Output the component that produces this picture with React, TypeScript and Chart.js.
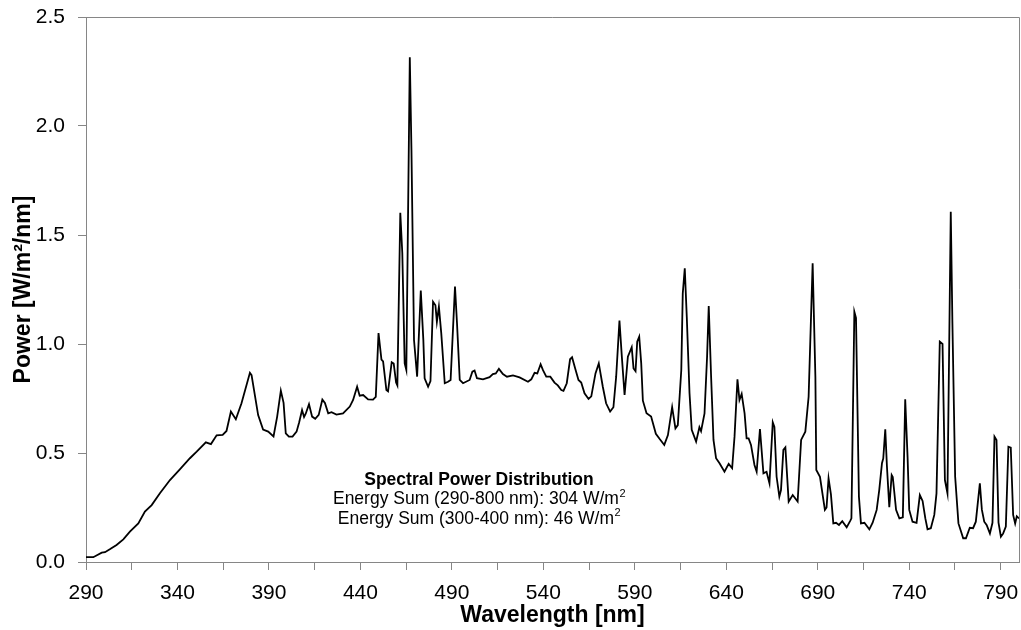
import React, { useEffect, useRef } from "react";
import { Chart, registerables } from "chart.js";

Chart.register(...registerables);

const wavelengths = [
  290, 294, 298.6, 300.4, 303, 306.7, 310.4, 314, 318.6, 322.2, 325.9, 330.4, 335.9, 341.3, 346.8, 350.5,
  355.5, 358.3, 361.4, 364.7, 366.8, 369.2, 371.9, 375, 379.6, 380.5, 384.1, 386.8, 389.6, 392.5, 394.5,
  396.5, 398, 399.2, 400.9, 402.9, 405.1, 406.5, 408.1, 409.2, 410.1, 411.9, 413.6, 415.3, 417.2, 419.2,
  420.6, 422.4, 424.2, 426.9, 430.5, 434.2, 436, 438.2, 439.6, 441.5, 444.2, 446.9, 448.4, 449.9, 451.5,
  452.4, 454.2, 455.1, 457.1, 458.2, 459.5, 460.2, 461.8, 462.9, 464.2, 465.1, 467, 467.9, 469.3, 471,
  473, 474.4, 475.1, 477, 478.3, 479.7, 481, 481.8, 482.9, 484.2, 486.1, 487.9, 489.3, 491.7, 492.8,
  494.3, 496.1, 499.7, 501.2, 502.4, 503.7, 507, 510.6, 512.4, 514, 515.7, 517.9, 520.1, 523.4, 527,
  531.6, 533.4, 535.2, 536.7, 538.5, 539.8, 541.6, 543.8, 546.1, 547.9, 549.8, 551, 552.8, 554.6, 555.7,
  557.4, 559.2, 560.7, 562.5, 564.7, 566.2, 568.5, 570.3, 572.5, 574.3, 576.5, 578.3, 579.8, 581.6,
  582.9, 584.4, 586.2, 588.3, 589.3, 590.4, 591.3, 592.4, 593.5, 594.4, 596.4, 598.9, 601.5, 603.7,
  606.1, 608.1, 610.4, 612.2, 613.5, 615.4, 616.2, 617.3, 618.4, 619.9, 621.1, 623.5, 625.3, 626.2,
  628.1, 629.5, 630.4, 631.7, 633, 634.4, 636.3, 639, 641.3, 643.2, 644.5, 646.1, 647.2, 648.4, 650,
  651.1, 652.2, 653.5, 655.4, 656.6, 658.4, 660.3, 662, 663.6, 665.4, 666.3, 667.5, 669, 669.9, 671.2,
  672.3, 674.1, 676.3, 679, 680.9, 683.2, 685, 687.2, 688.7, 689.2, 691.2, 693.9, 694.8, 695.9, 697.2,
  698.5, 700, 701.6, 703.4, 705.8, 707.8, 708.4, 710, 710.9, 712.5, 713.6, 715.5, 718.2, 720, 722.2,
  723.6, 725.1, 725.8, 726.9, 727.8, 729.1, 730.4, 731, 732.8, 734.6, 736.5, 737.8, 739.1, 740, 741.8,
  744, 745.8, 747.3, 748.8, 750, 751.8, 753.7, 754.9, 756.7, 758.2, 759.5, 760.9, 762.7, 763.6, 765.1,
  766.9, 769.5, 771, 773.1, 774.9, 776.4, 778.6, 779.7, 781, 782.3, 784.1, 785.5, 786.6, 787.7, 788.8,
  790.1, 791.3, 792.8, 794.2, 795.5, 796.8, 797.9, 798.8, 800,
];

const power = [
  0.022, 0.022, 0.043, 0.045, 0.058, 0.078, 0.104, 0.139, 0.177, 0.231, 0.261, 0.315, 0.376, 0.425, 0.476, 0.506,
  0.549, 0.541, 0.581, 0.583, 0.601, 0.69, 0.655, 0.728, 0.868, 0.857, 0.674, 0.608, 0.598, 0.576, 0.667,
  0.786, 0.73, 0.59, 0.575, 0.575, 0.598, 0.64, 0.697, 0.665, 0.68, 0.724, 0.667, 0.657, 0.675, 0.745,
  0.73, 0.682, 0.687, 0.676, 0.682, 0.713, 0.743, 0.804, 0.763, 0.766, 0.746, 0.745, 0.758, 1.05, 0.928,
  0.92, 0.789, 0.783, 0.916, 0.91, 0.823, 0.81, 1.602, 1.416, 0.911, 0.881, 2.315, 1.89, 1.018, 0.85,
  1.245, 1.018, 0.843, 0.804, 0.83, 1.194, 1.178, 1.102, 1.171, 1.049, 0.82, 0.827, 0.835, 1.263, 1.095,
  0.835, 0.82, 0.835, 0.873, 0.878, 0.843, 0.838, 0.848, 0.862, 0.865, 0.886, 0.862, 0.85, 0.856, 0.847,
  0.827, 0.838, 0.868, 0.865, 0.907, 0.88, 0.85, 0.85, 0.823, 0.81, 0.789, 0.785, 0.82, 0.93, 0.939,
  0.888, 0.835, 0.823, 0.774, 0.748, 0.76, 0.865, 0.911, 0.804, 0.728, 0.69, 0.71, 0.85, 1.107,
  0.942, 0.766, 0.942, 0.985, 0.888, 0.875, 1.011, 1.034, 0.911, 0.74, 0.682, 0.667, 0.588, 0.563,
  0.537, 0.582, 0.71, 0.613, 0.628, 0.881, 1.232, 1.347, 1.125, 0.774, 0.606, 0.552, 0.618, 0.6,
  0.682, 0.942, 1.174, 0.85, 0.56, 0.476, 0.453, 0.414, 0.45, 0.43, 0.575, 0.838, 0.743, 0.771, 0.682,
  0.567, 0.567, 0.537, 0.445, 0.414, 0.61, 0.407, 0.414, 0.361, 0.641, 0.62, 0.391, 0.3, 0.33, 0.514,
  0.526, 0.277, 0.307, 0.277, 0.56, 0.598, 0.758, 1.37, 0.85, 0.422, 0.391, 0.239, 0.25, 0.384, 0.31,
  0.177, 0.18, 0.17, 0.187, 0.159, 0.19, 0.2, 1.148, 1.12, 0.3, 0.177, 0.18, 0.15, 0.18, 0.239,
  0.33, 0.453, 0.475, 0.609, 0.44, 0.251, 0.399, 0.39, 0.239, 0.2, 0.205, 0.746, 0.48, 0.239, 0.185,
  0.18, 0.307, 0.28, 0.2, 0.15, 0.155, 0.216, 0.315, 1.011, 1.0, 0.376, 0.315, 1.607, 1.095, 0.391,
  0.177, 0.109, 0.109, 0.157, 0.155, 0.185, 0.361, 0.24, 0.185, 0.17, 0.131, 0.18, 0.575, 0.56, 0.18,
  0.116, 0.13, 0.162, 0.529, 0.525, 0.216, 0.177, 0.21, 0.2,
];

const xTickValues = [290, 315, 340, 365, 390, 415, 440, 465, 490, 515, 540, 565, 590, 615, 640, 665, 690, 715, 740, 765, 790];
const xLabelValues = [290, 340, 390, 440, 490, 540, 590, 640, 690, 740, 790];
const yTickValues = [0, 0.5, 1.0, 1.5, 2.0, 2.5];

const xTitle = "Wavelength [nm]";
const yTitle = "Power [W/m\u00b2/nm]";
const noteTitle = "Spectral Power Distribution";
const noteLines = ["Energy Sum (290-800 nm): 304 W/m", "Energy Sum (300-400 nm): 46 W/m"];

const FONT = "'Liberation Sans', Arial, sans-serif";
const AXIS_GRAY = "#868686";

const framePlugin = {
  id: "frame",
  beforeDraw(chart: any) {
    const ctx = chart.ctx;
    ctx.save();
    ctx.fillStyle = "#ffffff";
    ctx.fillRect(0, 0, chart.width, chart.height);
    ctx.restore();
  },
  afterDatasetsDraw(chart: any) {
    const { ctx, chartArea } = chart;
    ctx.save();
    ctx.strokeStyle = AXIS_GRAY;
    ctx.lineWidth = 1;
    ctx.beginPath();
    ctx.moveTo(chartArea.left, chartArea.top + 0.5);
    ctx.lineTo(chartArea.right + 0.5, chartArea.top + 0.5);
    ctx.lineTo(chartArea.right + 0.5, chartArea.bottom);
    ctx.stroke();

    // annotation
    const cx = 479;
    const baseY = 480;
    const lh = 19.5;
    ctx.fillStyle = "#000";
    ctx.textBaseline = "middle";
    ctx.textAlign = "left";
    ctx.font = `bold 17.5px ${FONT}`;
    const w0 = ctx.measureText(noteTitle).width;
    ctx.fillText(noteTitle, cx - w0 / 2, baseY);
    noteLines.forEach((line, i) => {
      const y = baseY + lh * (i + 1);
      ctx.font = `17.5px ${FONT}`;
      const w = ctx.measureText(line).width;
      ctx.font = `11px ${FONT}`;
      const ws = ctx.measureText("2").width;
      const start = cx - (w + ws) / 2;
      ctx.font = `17.5px ${FONT}`;
      ctx.fillText(line, start, y);
      ctx.font = `11px ${FONT}`;
      ctx.fillText("2", start + w + 0.5, y - 6);
    });
    ctx.restore();
  },
};

export default function App() {
  const canvasRef = useRef<HTMLCanvasElement | null>(null);

  useEffect(() => {
    const canvas = canvasRef.current;
    if (!canvas) return;
    const chart = new Chart(canvas, {
      type: "line",
      data: {
        datasets: [
          {
            data: wavelengths.map((x, i) => ({ x, y: power[i] })),
            borderColor: "#000000",
            borderWidth: 1.8,
            pointRadius: 0,
            tension: 0,
            fill: false,
          },
        ],
      },
      options: {
        responsive: false,
        animation: false,
        events: [],
        layout: { padding: { top: 17, right: 2, left: 0, bottom: 0 } },
        plugins: { legend: { display: false }, tooltip: { enabled: false } },
        scales: {
          x: {
            type: "linear",
            min: 290,
            max: 800,
            afterBuildTicks: (scale: any) => {
              scale.ticks = xTickValues.map((v) => ({ value: v }));
            },
            afterFit: (scale: any) => {
              scale.height = 68;
              scale.paddingLeft = 0;
              scale.paddingRight = 0;
              scale.paddingTop = 0;
              scale.paddingBottom = 0;
            },
            ticks: {
              autoSkip: false,
              maxRotation: 0,
              padding: 11,
              color: "#000",
              font: { family: FONT, size: 21 },
              callback: (v: any) => (xLabelValues.includes(Number(v)) ? String(v) : ""),
            },
            grid: { drawOnChartArea: false, drawTicks: true, tickLength: 8, color: AXIS_GRAY },
            border: { display: true, color: AXIS_GRAY, width: 1 },
            title: {
              display: true,
              text: xTitle,
              color: "#000",
              font: { family: FONT, size: 23, weight: "bold" },
              padding: { top: 0, bottom: 1 },
            },
          },
          y: {
            type: "linear",
            min: 0,
            max: 2.5,
            afterBuildTicks: (scale: any) => {
              scale.ticks = yTickValues.map((v) => ({ value: v }));
            },
            afterFit: (scale: any) => {
              scale.width = 86;
              scale.paddingLeft = 0;
              scale.paddingRight = 0;
              scale.paddingTop = 0;
              scale.paddingBottom = 0;
            },
            ticks: {
              padding: 13,
              color: "#000",
              font: { family: FONT, size: 21 },
              callback: (v: any) => Number(v).toFixed(1),
            },
            grid: { drawOnChartArea: false, drawTicks: true, tickLength: 8, color: AXIS_GRAY },
            border: { display: true, color: AXIS_GRAY, width: 1 },
            title: {
              display: true,
              text: yTitle,
              color: "#000",
              font: { family: FONT, size: 23, weight: "bold" },
              padding: { top: 10, bottom: 0 },
            },
          },
        },
      },
      plugins: [framePlugin],
    } as any);
    return () => chart.destroy();
  }, []);

  return (
    <div style={{ position: "absolute", left: 0, top: 0, width: 1021, height: 630, background: "#fff" }}>
      <canvas ref={canvasRef} width={1021} height={630} style={{ display: "block" }} />
    </div>
  );
}
